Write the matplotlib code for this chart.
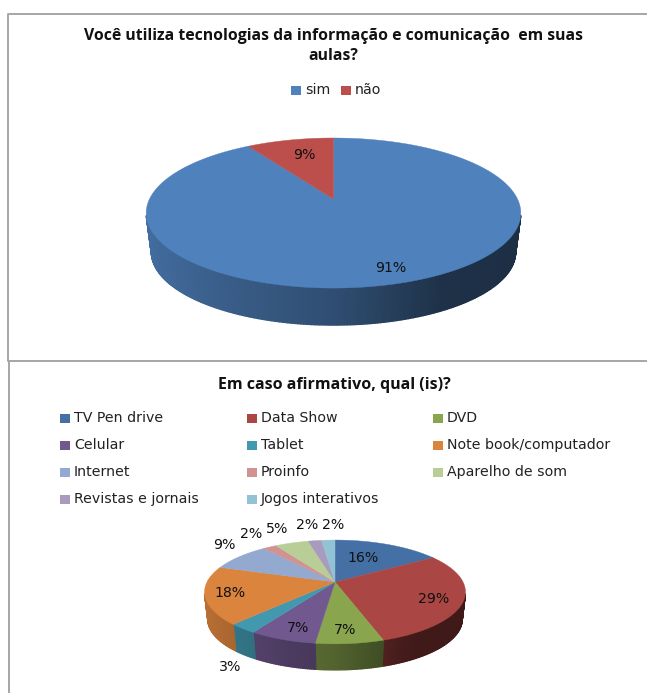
import numpy as np
import matplotlib
matplotlib.use('Agg')
from matplotlib import pyplot as plt
from matplotlib.patches import Polygon, Rectangle

title1 = 'Você utiliza tecnologias da informação e comunicação  em suas\naulas?'
labels1 = ['sim', 'não']
values1 = [91, 9]
colors1 = ['#4F81BD', '#BC4F4C']

title2 = 'Em caso afirmativo, qual (is)?'
labels2 = ['TV Pen drive', 'Data Show', 'DVD', 'Celular', 'Tablet',
           'Note book/computador', 'Internet', 'Proinfo', 'Aparelho de som',
           'Revistas e jornais', 'Jogos interativos']
values2 = [16, 29, 7, 7, 3, 18, 9, 2, 5, 2, 2]
colors2 = ['#4470A6', '#AA4643', '#89A54E', '#71588F', '#4198AF', '#DB843D',
           '#93A9CF', '#D19392', '#B9CD96', '#A99BBD', '#92C3D5']


def rim(theta, cx, cy, R, Rv, k, scale=1.0, drop=0.0):
    # theta is clockwise from 12 o'clock, perspective squeezes the far side
    u = np.sin(theta)
    v = np.cos(theta)
    w = 1 + k * v
    return cx + scale * R * u / w, cy + drop - scale * Rv * v / w


def pie3d(ax, values, colors, cx, cy, R, Rv, k, scale, drop):
    total = float(sum(values))
    edges = np.concatenate([[0], np.cumsum(values)]) / total * 2 * np.pi
    # side wall first, the top face covers what is left over
    for i in range(len(values)):
        n = max(int((edges[i + 1] - edges[i]) * 80), 2)
        th = np.linspace(edges[i], edges[i + 1], n + 1)
        for a, b in zip(th[:-1], th[1:]):
            if np.cos((a + b) / 2) > -k - 0.03:
                continue
            x1, y1 = rim(np.array([a, b]), cx, cy, R, Rv, k)
            x2, y2 = rim(np.array([b, a]), cx, cy, R, Rv, k, scale, drop)
            shade = np.interp(np.sin((a + b) / 2), [-1, 0, 0.5, 1], [0.85, 0.6, 0.38, 0.36])
            col = np.array(matplotlib.colors.to_rgb(colors[i])) * shade
            pts = np.column_stack([np.r_[x1, x2], np.r_[y1, y2]])
            ax.add_patch(Polygon(pts, closed=True, fc=col, ec=col, lw=1.0, zorder=2))
    for i in range(len(values)):
        th = np.linspace(edges[i], edges[i + 1], 200)
        x, y = rim(th, cx, cy, R, Rv, k)
        pts = np.column_stack([np.r_[cx, x], np.r_[cy, y]])
        ax.add_patch(Polygon(pts, closed=True, fc=colors[i], ec=colors[i], lw=0.3, zorder=3))


def legend_item(ax, x, y, color, text):
    ax.add_patch(Rectangle((x, y - 4.5), 9.5, 9, fc=color, ec='none', zorder=3))
    ax.text(x + 14, y, text, fontsize=10.2, color='#222222', va='center', ha='left')


fig = plt.figure(figsize=(6.47, 6.93), dpi=100)
ax = fig.add_axes([0, 0, 1, 1])
ax.set_xlim(0, 647)
ax.set_ylim(693, 0)
ax.axis('off')

# frames of the two pasted charts
ax.plot([647, 8, 8, 647], [14, 14, 360.5, 360.5], color='#A6A6A6', lw=1.4)
ax.plot([9, 9], [361, 693], color='#A6A6A6', lw=1.4)

# upper chart
ax.text(333, 46, title1, fontsize=11.35, fontfamily='Open Sans', fontweight='bold',
        ha='center', va='center', linespacing=1.25, color='#111111')
legend_x1 = [291, 341]
for i in range(2):
    legend_item(ax, legend_x1[i], 90, colors1[i], labels1[i])
pie3d(ax, values1, colors1, 333.5, 199, 184, 72.4, 0.187, 0.972, 39.5)
pos1 = [(391, 268), (304.5, 155)]
for i in range(2):
    ax.text(pos1[i][0], pos1[i][1], '%d%%' % values1[i], fontsize=10.2,
            ha='center', va='center', color='#111111', zorder=5)

# lower chart
ax.text(334, 385, title2, fontsize=11.5, fontfamily='Open Sans', fontweight='bold',
        ha='center', va='center', color='#111111')
col_x = [60, 247, 433]
row_y = [418, 445, 472, 499]
for i in range(len(labels2)):
    legend_item(ax, col_x[i % 3], row_y[i // 3], colors2[i], labels2[i])
pie3d(ax, values2, colors2, 335, 582, 128, 50, 0.192, 0.975, 27.5)
pos2 = [(363, 558), (434, 599), (345, 630), (298, 628), (230, 667), (230, 593),
        (224, 545), (251, 534), (277, 529), (307, 525), (333, 525)]
for i in range(len(values2)):
    ax.text(pos2[i][0], pos2[i][1], '%d%%' % values2[i], fontsize=10.2,
            ha='center', va='center', color='#111111', zorder=5)

fig.savefig('out.png', dpi=100)
